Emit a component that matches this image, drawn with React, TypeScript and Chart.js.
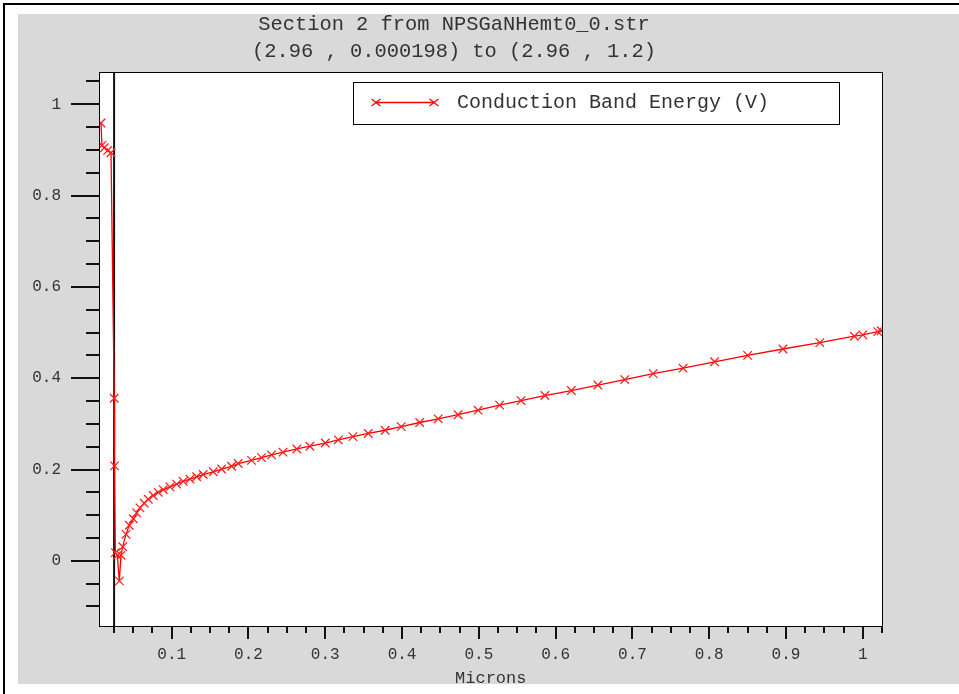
import React, { useEffect, useRef } from 'react';
import { Chart, registerables } from 'chart.js';

Chart.register(...registerables);

const FONT = '"Liberation Mono", "Courier New", monospace';
const TEXT_COLOR = '#333333';

const titleLines = ['Section 2 from NPSGaNHemt0_0.str', '(2.96 , 0.000198) to (2.96 , 1.2)'];
const seriesLabel = 'Conduction Band Energy (V)';
const xAxisLabel = 'Microns';

const micronsX = [
  0.0079, 0.0092, 0.0122, 0.0166, 0.021, 0.0252, 0.0256, 0.0266, 0.0292, 0.0318,
  0.034, 0.0362, 0.0405, 0.0448, 0.05, 0.0544, 0.0587, 0.0643, 0.0695, 0.076,
  0.0825, 0.089, 0.0977, 0.1065, 0.115, 0.1238, 0.1325, 0.1411, 0.1541, 0.165,
  0.178, 0.1866, 0.204, 0.217, 0.23, 0.245, 0.263, 0.28, 0.3, 0.317,
  0.336, 0.356, 0.378, 0.399, 0.423, 0.447, 0.473, 0.499, 0.527, 0.555,
  0.586, 0.6205, 0.655, 0.69, 0.727, 0.766, 0.807, 0.85, 0.896, 0.944,
  0.989, 1.0, 1.0195, 1.024,
];
const conductionBandY = [
  0.959, 0.91, 0.905, 0.899, 0.894, 0.356, 0.208, 0.018, 0.012, -0.044,
  0.012, 0.031, 0.058, 0.078, 0.092, 0.105, 0.116, 0.126, 0.135, 0.143,
  0.15, 0.156, 0.162, 0.168, 0.174, 0.179, 0.184, 0.189, 0.195, 0.201,
  0.207, 0.213, 0.22, 0.226, 0.232, 0.238, 0.245, 0.251, 0.258, 0.265,
  0.272, 0.279, 0.286, 0.294, 0.303, 0.311, 0.32, 0.33, 0.341, 0.351,
  0.362, 0.373, 0.385, 0.397, 0.41, 0.422, 0.436, 0.45, 0.464, 0.478,
  0.492, 0.495, 0.502, 0.504,
];

const xMajorTicks = [0.1, 0.2, 0.3, 0.4, 0.5, 0.6, 0.7, 0.8, 0.9, 1.0];
const xTickLabels = ['0.1', '0.2', '0.3', '0.4', '0.5', '0.6', '0.7', '0.8', '0.9', '1'];
const xMinorTicks = [
  0.025, 0.05, 0.075, 0.125, 0.15, 0.175, 0.225, 0.25, 0.275, 0.325, 0.35, 0.375,
  0.425, 0.45, 0.475, 0.525, 0.55, 0.575, 0.625, 0.65, 0.675, 0.725, 0.75, 0.775,
  0.825, 0.85, 0.875, 0.925, 0.95, 0.975, 1.025,
];
const yMajorTicks = [0, 0.2, 0.4, 0.6, 0.8, 1.0];
const yTickLabels = ['0', '0.2', '0.4', '0.6', '0.8', '1'];
const yMinorTicks = [
  -0.1, -0.05, 0.05, 0.1, 0.15, 0.25, 0.3, 0.35, 0.45, 0.5, 0.55, 0.65, 0.7, 0.75,
  0.85, 0.9, 0.95, 1.05,
];
const regionBoundaries = [0.025];
const xRange = [0.006, 1.025];
const yRange = [-0.1428, 1.0685];

function labelFor(value: number, majors: number[], labels: string[]) {
  const i = majors.findIndex((m) => Math.abs(m - value) < 1e-9);
  return i >= 0 ? labels[i] : '';
}

const framePlugin = {
  id: 'framePlugin',
  beforeDraw(chart: any) {
    const { ctx, chartArea: a, width, height } = chart;
    ctx.save();
    ctx.fillStyle = '#ffffff';
    ctx.fillRect(0, 0, width, height);
    ctx.fillStyle = '#d9d9d9';
    ctx.fillRect(18, 14, width - 18, 670);
    ctx.strokeStyle = '#000000';
    ctx.lineWidth = 2;
    ctx.beginPath();
    ctx.moveTo(4, height);
    ctx.lineTo(4, 4);
    ctx.lineTo(width, 4);
    ctx.stroke();
    ctx.fillStyle = '#ffffff';
    ctx.fillRect(a.left, a.top, a.right - a.left, a.bottom - a.top);
    ctx.restore();
  },
  beforeDatasetsDraw(chart: any) {
    const { ctx, chartArea: a, scales } = chart;
    ctx.save();
    ctx.strokeStyle = '#111111';
    ctx.lineWidth = 2;
    regionBoundaries.forEach((b) => {
      const px = scales.x.getPixelForValue(b);
      ctx.beginPath();
      ctx.moveTo(px, a.top);
      ctx.lineTo(px, a.bottom);
      ctx.stroke();
    });
    ctx.restore();
  },
  afterDraw(chart: any) {
    const { ctx, chartArea: a, scales } = chart;
    ctx.save();
    ctx.strokeStyle = '#000000';
    ctx.lineWidth = 1;
    ctx.strokeRect(Math.floor(a.left) + 0.5, Math.floor(a.top) - 0.5, Math.round(a.right) - Math.floor(a.left), Math.round(a.bottom) - Math.floor(a.top) + 1);
    ctx.strokeStyle = '#111111';
    ctx.lineWidth = 2;
    const yLeft = Math.floor(a.left);
    yMajorTicks.concat(yMinorTicks).forEach((v) => {
      const major = yMajorTicks.includes(v);
      const py = Math.round(scales.y.getPixelForValue(v));
      ctx.beginPath();
      ctx.moveTo(yLeft, py);
      ctx.lineTo(yLeft - (major ? 28 : 13), py);
      ctx.stroke();
    });
    const xBottom = Math.round(a.bottom) + 1;
    xMajorTicks.concat(xMinorTicks).forEach((v) => {
      const major = xMajorTicks.includes(v);
      const px = Math.round(scales.x.getPixelForValue(v));
      ctx.beginPath();
      ctx.moveTo(px, xBottom);
      ctx.lineTo(px, xBottom + (major ? 12 : 6));
      ctx.stroke();
    });
    const ds = chart.data.datasets[0];
    ctx.fillStyle = '#ffffff';
    ctx.fillRect(353.5, 82.5, 486, 42);
    ctx.strokeStyle = '#000000';
    ctx.lineWidth = 1;
    ctx.strokeRect(353.5, 82.5, 486, 42);
    ctx.strokeStyle = ds.borderColor;
    ctx.lineWidth = 1.3;
    ctx.beginPath();
    ctx.moveTo(376, 102.5);
    ctx.lineTo(434, 102.5);
    ctx.stroke();
    [376, 434].forEach((cx) => {
      const r = 3.5;
      ctx.beginPath();
      ctx.moveTo(cx - r - 1, 102.5 - r);
      ctx.lineTo(cx + r + 1, 102.5 + r);
      ctx.moveTo(cx + r + 1, 102.5 - r);
      ctx.lineTo(cx - r - 1, 102.5 + r);
      ctx.stroke();
    });
    ctx.fillStyle = TEXT_COLOR;
    ctx.font = `20px ${FONT}`;
    ctx.textBaseline = 'middle';
    ctx.textAlign = 'left';
    ctx.fillText(ds.label, 457, 103);
    ctx.restore();
  },
};

export default function App() {
  const canvasRef = useRef<HTMLCanvasElement | null>(null);

  useEffect(() => {
    if (!canvasRef.current) return;
    const chart = new Chart(canvasRef.current, {
      type: 'line',
      data: {
        datasets: [
          {
            label: seriesLabel,
            data: micronsX.map((x, i) => ({ x, y: conductionBandY[i] })),
            borderColor: '#ff0000',
            backgroundColor: '#ff0000',
            borderWidth: 1.3,
            pointStyle: 'crossRot',
            pointRadius: 6,
            pointBorderWidth: 1.3,
            pointBorderColor: '#ff2020',
            pointHoverRadius: 6,
            tension: 0,
            fill: false,
          },
        ],
      },
      options: {
        animation: false,
        responsive: false,
        devicePixelRatio: 1,
        events: [],
        layout: { padding: { left: 26, right: 77, top: 0, bottom: 2 } },
        plugins: {
          legend: { display: false },
          tooltip: { enabled: false },
          title: {
            display: true,
            text: titleLines,
            color: TEXT_COLOR,
            font: { family: FONT, size: 20.4, weight: 'normal', lineHeight: 1.3 },
            padding: { top: 11.5, bottom: 8.5 },
          },
        },
        scales: {
          x: {
            type: 'linear',
            min: xRange[0],
            max: xRange[1],
            afterBuildTicks: (scale: any) => {
              scale.ticks = xMajorTicks.map((v) => ({ value: v }));
            },
            afterFit: (scale: any) => {
              scale.height = 66;
            },
            grid: { display: false, drawTicks: false },
            border: { display: false },
            ticks: {
              autoSkip: false,
              maxRotation: 0,
              padding: 19,
              color: TEXT_COLOR,
              font: { family: FONT, size: 16 },
              callback: (v: any) => labelFor(Number(v), xMajorTicks, xTickLabels),
            },
            title: {
              display: true,
              text: xAxisLabel,
              color: TEXT_COLOR,
              font: { family: FONT, size: 17, lineHeight: 1 },
              padding: { top: 0, bottom: 5.5 },
            },
          },
          y: {
            type: 'linear',
            min: yRange[0],
            max: yRange[1],
            afterBuildTicks: (scale: any) => {
              scale.ticks = yMajorTicks.map((v) => ({ value: v }));
            },
            afterFit: (scale: any) => {
              scale.width = 73.5;
            },
            grid: { display: false, drawTicks: false },
            border: { display: false },
            ticks: {
              autoSkip: false,
              padding: 38.5,
              color: TEXT_COLOR,
              font: { family: FONT, size: 16 },
              callback: (v: any) => labelFor(Number(v), yMajorTicks, yTickLabels),
            },
          },
        },
      } as any,
      plugins: [framePlugin],
    });
    return () => chart.destroy();
  }, []);

  return (
    <div style={{ position: 'absolute', left: 0, top: 0, width: 959, height: 694 }}>
      <canvas ref={canvasRef} width={959} height={694} style={{ display: 'block' }} />
    </div>
  );
}
